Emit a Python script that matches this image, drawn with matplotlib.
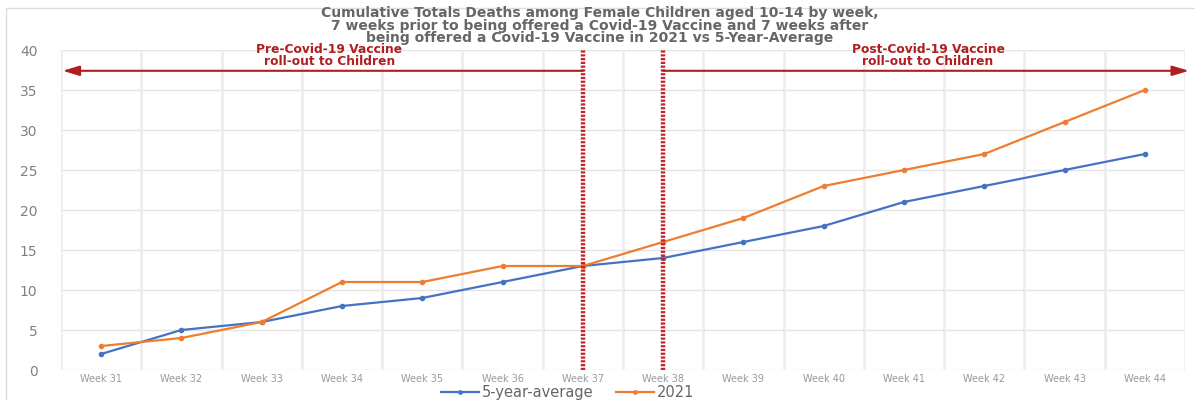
import matplotlib
matplotlib.use("Agg")
import matplotlib.pyplot as plt
from matplotlib.patches import Rectangle

weeks = ["Week 31", "Week 32", "Week 33", "Week 34", "Week 35", "Week 36", "Week 37",
         "Week 38", "Week 39", "Week 40", "Week 41", "Week 42", "Week 43", "Week 44"]
avg5 = [2, 5, 6, 8, 9, 11, 13, 14, 16, 18, 21, 23, 25, 27]
y2021 = [3, 4, 6, 11, 11, 13, 13, 16, 19, 23, 25, 27, 31, 35]
vline_weeks = ["Week 37", "Week 38"]
arrow_level = 37.4

title = ("Cumulative Totals Deaths among Female Children aged 10-14 by week,\n"
         "7 weeks prior to being offered a Covid-19 Vaccine and 7 weeks after\n"
         "being offered a Covid-19 Vaccine in 2021 vs 5-Year-Average")

fig = plt.figure(figsize=(11.95, 4.0), dpi=100)
ax = fig.add_axes([61/1195, 30/400, (1185-61)/1195, (370-50)/400])

x = list(range(len(weeks)))
ax.plot(x, avg5, color="#4472C4", lw=1.6, marker="o", ms=3, label="5-year-average", zorder=3)
ax.plot(x, y2021, color="#ED7D31", lw=1.6, marker="o", ms=3, label="2021", zorder=3)

ax.set_xlim(-0.5, len(weeks) - 0.5)
ax.set_ylim(0, 40)
ax.set_yticks(range(0, 41, 5))
ax.set_xticks(x)
ax.set_xticklabels(weeks, fontsize=7, color="#999999", family="DejaVu Sans")
for lab in ax.get_yticklabels():
    lab.set_fontsize(10)
    lab.set_color("#808080")
    lab.set_family("DejaVu Sans")
ax.tick_params(axis="x", length=0, pad=3)
ax.tick_params(axis="y", length=0, pad=17)

for v in range(0, 41, 5):
    ax.axhline(v, color="#e3e3e3", lw=1, zorder=0)
for b in range(len(weeks) + 1):
    ax.axvline(b - 0.5, color="#ececec", lw=1.8, zorder=0)
for s in ax.spines.values():
    s.set_visible(False)

red = "#B01E1E"
for w in vline_weeks:
    ax.axvline(weeks.index(w), color="#C0262B", lw=3.2, ls=(0, (0.5, 0.35)), zorder=4)

i37 = weeks.index(vline_weeks[0])
i38 = weeks.index(vline_weeks[1])
ax.annotate("", xy=(-0.48, arrow_level), xytext=(i37, arrow_level),
            arrowprops=dict(arrowstyle="-|>,head_length=1.0,head_width=0.3", color=red, lw=1.5,
                            shrinkA=0, shrinkB=0), zorder=5)
ax.annotate("", xy=(len(weeks) - 0.45, arrow_level), xytext=(i38, arrow_level),
            arrowprops=dict(arrowstyle="-|>,head_length=1.0,head_width=0.3", color=red, lw=1.5,
                            shrinkA=0, shrinkB=0), zorder=5, annotation_clip=False)

ax.text(2.84, 37.75, "Pre-Covid-19 Vaccine\nroll-out to Children", ha="center", va="bottom",
        color=red, fontsize=8.8, fontweight="bold", family="DejaVu Sans", linespacing=0.88)
ax.text(10.3, 37.75, "Post-Covid-19 Vaccine\nroll-out to Children", ha="center", va="bottom",
        color=red, fontsize=8.8, fontweight="bold", family="DejaVu Sans", linespacing=0.88)

fig.text(0.502, 0.936, title, ha="center", va="center", fontsize=10, fontweight="bold",
         color="#666666", family="DejaVu Sans", linespacing=0.88)

leg = fig.legend(loc="center", bbox_to_anchor=(0.475, 0.018), ncol=2, frameon=False,
                 prop={"family": "DejaVu Sans", "size": 10.5}, handlelength=2.6,
                 columnspacing=1.6, handletextpad=0.2, markerscale=0.8, borderpad=0.1)
for t in leg.get_texts():
    t.set_color("#666666")

fig.patches.append(Rectangle((6/1195, -0.01), 1.0, 0.99, transform=fig.transFigure,
                             fill=False, edgecolor="#dddddd", lw=1))

fig.savefig("out.png", dpi=100)
